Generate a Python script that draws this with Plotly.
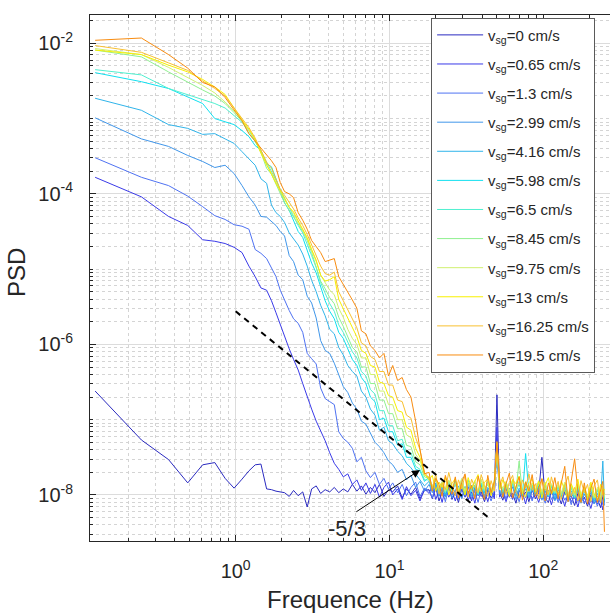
import numpy as np
import plotly.graph_objects as go

# ---------------- data (log10 of PSD) ----------------
freq_low = [0.122, 0.244, 0.366, 0.488, 0.610, 0.732, 0.854, 0.977,
            1.10, 1.22, 1.34, 1.46, 1.59, 1.71, 1.83, 1.95,
            2.08, 2.23, 2.38, 2.55, 2.73, 2.92, 3.12, 3.34,
            3.57, 3.82, 4.09, 4.38, 4.68, 5.01, 5.36, 5.74,
            6.14, 6.57, 7.03, 7.52, 8.05, 8.61, 9.21, 9.86,
            10.5, 11.3, 12.1, 12.9, 13.8, 14.8, 15.8, 16.9]
freq_high = [18.1, 19.0, 20.0, 21.0, 22.0, 23.1, 24.3, 25.5,
             26.8, 28.1, 29.5, 31.0, 32.5, 34.2, 35.9, 37.7,
             39.5, 41.5, 43.6, 45.8, 48.1, 50.0, 52.0, 54.6,
             57.3, 60.2, 63.2, 66.4, 69.7, 73.2, 76.8, 80.7,
             84.7, 88.9, 93.4, 98.0, 103, 108, 113, 119,
             125, 131, 138, 145, 152, 160, 168, 176,
             185, 194, 204, 214, 225, 236, 244, 250]

vsg_labels = ["0", "0.65", "1.3", "2.99", "4.16", "5.98", "6.5",
              "8.45", "9.75", "13", "16.25", "19.5"]
line_colors = ["#2a2ac0", "#3a3ae8", "#4f72f2", "#4096ea", "#30b4ea", "#10e0f0",
               "#50f0d0", "#90f090", "#d0f070", "#f8f000", "#f8c030", "#f88c10"]

s0_low = [-6.62, -7.27, -7.53, -7.84, -7.60, -7.57, -7.78, -7.91,
          -7.79, -7.68, -7.60, -7.59, -7.92, -7.93, -7.95, -7.96,
          -7.97, -8.02, -7.94, -8.01, -7.96, -8.16, -7.92, -7.88,
          -7.98, -7.93, -7.96, -7.90, -7.97, -7.92, -7.96, -7.86,
          -7.95, -7.88, -7.99, -7.90, -7.97, -7.86, -8.02, -7.93,
          -7.96, -7.88, -8.04, -7.92, -7.99, -7.90, -8.05, -7.94]
s0_high = [-7.93, -8.05, -7.90, -8.08, -7.96, -8.02, -7.88, -8.06,
           -7.97, -8.10, -7.92, -8.03, -7.95, -8.08, -7.90, -8.01,
           -7.96, -8.09, -7.93, -8.04, -7.98, -6.67, -7.97, -8.07,
           -7.92, -8.03, -7.98, -8.11, -7.94, -8.02, -7.96, -8.09,
           -7.93, -8.05, -7.97, -7.50, -8.04, -8.10, -7.95, -8.06,
           -8.00, -8.12, -7.96, -8.05, -8.01, -8.14, -7.98, -8.08,
           -8.03, -8.15, -8.00, -8.11, -8.05, -8.17, -8.02, -8.09]

s1_low = [-3.78, -4.04, -4.30, -4.42, -4.61, -4.63, -4.66, -4.71,
          -4.78, -4.96, -5.10, -5.25, -5.28, -5.42, -5.58, -5.74,
          -5.88, -6.06, -6.20, -6.34, -6.52, -6.70, -6.86, -7.02,
          -7.14, -7.28, -7.44, -7.58, -7.66, -7.76, -7.72, -7.86,
          -7.80, -7.94, -7.84, -7.98, -7.86, -8.03, -7.90, -7.83,
          -8.00, -7.92, -8.06, -7.89, -8.01, -7.94, -8.08, -7.92]
s1_high = [-7.98, -7.88, -8.06, -7.94, -8.10, -7.91, -8.03, -7.95,
           -8.08, -7.93, -8.04, -7.89, -8.07, -7.96, -8.11, -7.92,
           -8.02, -7.95, -8.09, -7.93, -8.05, -7.10, -8.03, -7.96,
           -8.09, -7.94, -8.06, -7.91, -8.04, -7.97, -8.12, -7.93,
           -8.05, -7.98, -8.10, -7.95, -8.07, -7.99, -8.13, -7.96,
           -8.06, -8.00, -8.15, -7.97, -8.09, -8.02, -8.16, -7.99,
           -8.10, -8.04, -8.18, -8.01, -8.12, -8.06, -8.20, -8.05]

s2_low = [-3.52, -3.78, -3.89, -4.03, -4.17, -4.29, -4.34, -4.41,
          -4.43, -4.47, -4.74, -4.79, -4.86, -4.98, -5.10, -5.28,
          -5.42, -5.55, -5.66, -5.72, -5.84, -6.12, -6.19, -6.26,
          -6.58, -6.72, -6.76, -6.80, -7.16, -7.25, -7.30, -7.38,
          -7.56, -7.50, -7.68, -7.77, -7.70, -7.86, -7.78, -7.92,
          -7.84, -7.97, -7.86, -8.01, -7.90, -7.83, -8.02, -7.91]
s2_high = [-7.95, -8.04, -7.87, -8.01, -7.93, -8.09, -7.90, -8.00,
           -7.94, -8.06, -7.91, -8.02, -7.89, -8.05, -7.95, -8.10,
           -7.92, -8.03, -7.97, -8.08, -7.94, -7.45, -8.00, -7.93,
           -8.05, -7.91, -8.02, -7.96, -8.09, -7.92, -8.04, -7.95,
           -8.08, -7.93, -8.03, -7.98, -8.11, -7.94, -8.06, -7.97,
           -8.10, -7.96, -8.07, -7.99, -8.13, -7.97, -8.09, -8.01,
           -8.12, -7.99, -8.10, -8.03, -8.15, -8.00, -8.13, -8.04]

s3_low = [-2.99, -3.27, -3.37, -3.49, -3.57, -3.65, -3.62, -3.73,
          -3.89, -4.04, -4.15, -4.30, -4.31, -4.37, -4.42, -4.50,
          -4.56, -4.82, -4.90, -5.08, -5.14, -5.36, -5.45, -5.65,
          -5.95, -6.08, -6.12, -6.25, -6.40, -6.56, -6.64, -6.78,
          -6.86, -7.02, -7.06, -7.18, -7.30, -7.36, -7.44, -7.55,
          -7.60, -7.70, -7.66, -7.80, -7.74, -7.90, -7.82, -7.95]
s3_high = [-7.86, -7.97, -7.84, -8.02, -7.91, -7.99, -7.85, -8.04,
           -7.93, -7.88, -8.05, -7.92, -8.00, -7.87, -8.03, -7.94,
           -7.90, -8.04, -7.92, -7.99, -7.88, -7.40, -7.95, -8.03,
           -7.91, -8.00, -7.89, -8.06, -7.94, -7.99, -7.92, -8.04,
           -7.93, -8.01, -7.90, -8.07, -7.95, -8.02, -7.93, -8.08,
           -7.96, -8.04, -7.94, -8.09, -7.98, -8.05, -7.95, -8.11,
           -7.99, -8.07, -7.97, -8.12, -8.01, -8.09, -7.98, -8.14]

s4_low = [-2.73, -2.89, -3.08, -3.13, -3.21, -3.20, -3.27, -3.33,
          -3.44, -3.53, -3.62, -3.80, -3.86, -4.15, -4.25, -4.30,
          -4.38, -4.52, -4.60, -4.68, -4.80, -4.96, -5.15, -5.30,
          -5.48, -5.62, -5.80, -5.86, -6.04, -6.14, -6.28, -6.36,
          -6.42, -6.62, -6.70, -6.86, -6.94, -7.14, -7.10, -7.28,
          -7.32, -7.42, -7.48, -7.58, -7.64, -7.72, -7.80, -7.88]
s4_high = [-7.82, -7.95, -7.86, -7.99, -7.88, -8.03, -7.90, -7.96,
           -7.85, -8.00, -7.89, -7.97, -7.84, -8.02, -7.91, -7.98,
           -7.87, -8.01, -7.90, -7.96, -7.86, -7.42, -7.93, -8.00,
           -7.88, -7.97, -7.85, -8.02, -7.91, -7.98, -7.89, -8.03,
           -7.90, -7.99, -7.88, -8.04, -7.92, -8.00, -7.87, -8.05,
           -7.93, -8.02, -7.91, -8.06, -7.95, -8.03, -7.92, -8.08,
           -7.96, -8.05, -7.94, -8.09, -7.98, -8.06, -7.55, -8.10]

s5_low = [-2.39, -2.51, -2.60, -2.71, -2.80, -3.00, -3.04, -3.08,
          -3.16, -3.24, -3.36, -3.42, -3.60, -3.64, -3.80, -3.96,
          -4.12, -4.22, -4.36, -4.50, -4.58, -4.74, -4.92, -5.05,
          -5.25, -5.42, -5.56, -5.66, -5.84, -5.92, -6.06, -6.20,
          -6.28, -6.44, -6.52, -6.70, -6.76, -7.00, -6.98, -7.16,
          -7.16, -7.34, -7.32, -7.50, -7.50, -7.66, -7.68, -7.82]
s5_high = [-7.76, -7.90, -7.80, -7.95, -7.83, -7.98, -7.86, -7.93,
           -7.81, -7.96, -7.84, -7.99, -7.82, -7.94, -7.87, -8.00,
           -7.85, -7.97, -7.83, -7.95, -7.88, -7.30, -7.84, -7.98,
           -7.86, -7.99, -7.80, -7.96, -7.85, -8.01, -7.45, -7.97,
           -7.87, -8.00, -7.84, -7.98, -7.86, -8.02, -7.88, -7.99,
           -7.89, -8.02, -7.86, -8.01, -7.90, -8.04, -7.88, -8.03,
           -7.92, -8.05, -7.89, -8.04, -7.93, -8.07, -7.91, -8.06]

s6_low = [-2.35, -2.42, -2.60, -2.68, -2.74, -2.80, -2.86, -2.96,
          -3.05, -3.16, -3.30, -3.44, -3.58, -3.70, -3.82, -3.94,
          -4.06, -4.18, -4.30, -4.42, -4.52, -4.66, -4.82, -4.98,
          -5.18, -5.32, -5.46, -5.56, -5.74, -5.84, -5.98, -6.10,
          -6.18, -6.36, -6.42, -6.60, -6.66, -6.88, -6.88, -7.08,
          -7.08, -7.28, -7.26, -7.44, -7.44, -7.62, -7.66, -7.80]
s6_high = [-7.80, -7.92, -7.78, -7.94, -7.85, -7.97, -7.82, -7.95,
           -7.83, -7.98, -7.86, -7.93, -7.80, -7.96, -7.88, -7.99,
           -7.84, -7.95, -7.82, -7.97, -7.87, -7.35, -7.86, -7.96,
           -7.83, -7.98, -7.85, -7.94, -7.82, -7.99, -7.86, -7.95,
           -7.88, -7.97, -7.84, -7.99, -7.87, -8.01, -7.89, -7.98,
           -7.90, -8.00, -7.87, -8.02, -7.91, -8.03, -7.89, -8.02,
           -7.93, -8.04, -7.90, -8.05, -7.94, -8.06, -7.92, -8.05]

s7_low = [-2.09, -2.18, -2.38, -2.52, -2.62, -2.70, -2.80, -2.92,
          -3.04, -3.20, -3.30, -3.45, -3.66, -3.74, -3.88, -4.00,
          -4.12, -4.22, -4.30, -4.40, -4.50, -4.62, -4.78, -4.96,
          -5.16, -5.26, -5.38, -5.46, -5.64, -5.76, -5.90, -6.04,
          -6.10, -6.30, -6.30, -6.52, -6.52, -6.74, -6.74, -6.92,
          -6.92, -7.12, -7.12, -7.34, -7.36, -7.56, -7.60, -7.76]
s7_high = [-7.78, -7.90, -7.80, -7.93, -7.84, -7.96, -7.81, -7.92,
           -7.86, -7.95, -7.79, -7.97, -7.85, -7.92, -7.83, -7.98,
           -7.80, -7.94, -7.86, -7.96, -7.82, -7.36, -7.85, -7.93,
           -7.84, -7.97, -7.81, -7.95, -7.55, -7.98, -7.84, -7.96,
           -7.86, -7.95, -7.83, -7.98, -7.85, -8.00, -7.87, -7.97,
           -7.88, -7.99, -7.85, -8.01, -7.89, -8.02, -7.87, -8.01,
           -7.91, -8.03, -7.88, -8.04, -7.92, -8.05, -7.90, -8.04]

s8_low = [-2.07, -2.15, -2.32, -2.45, -2.56, -2.66, -2.78, -2.90,
          -3.02, -3.16, -3.28, -3.42, -3.62, -3.72, -3.84, -3.96,
          -4.08, -4.18, -4.26, -4.38, -4.48, -4.60, -4.74, -4.90,
          -5.08, -5.18, -5.28, -5.34, -5.52, -5.64, -5.80, -5.92,
          -6.00, -6.18, -6.18, -6.40, -6.40, -6.62, -6.62, -6.80,
          -6.80, -7.00, -7.00, -7.20, -7.24, -7.46, -7.54, -7.74]
s8_high = [-7.76, -7.88, -7.79, -7.91, -7.82, -7.94, -7.80, -7.90,
           -7.84, -7.93, -7.78, -7.95, -7.83, -7.90, -7.81, -7.96,
           -7.79, -7.92, -7.84, -7.94, -7.80, -7.33, -7.83, -7.91,
           -7.82, -7.95, -7.79, -7.93, -7.84, -7.96, -7.82, -7.94,
           -7.84, -7.93, -7.81, -7.96, -7.83, -7.98, -7.85, -7.95,
           -7.86, -7.97, -7.83, -7.99, -7.87, -8.00, -7.85, -7.99,
           -7.89, -8.01, -7.86, -8.02, -7.90, -8.03, -7.88, -8.02]

s9_low = [-2.09, -2.15, -2.29, -2.38, -2.48, -2.58, -2.68, -2.86,
          -3.02, -3.14, -3.28, -3.46, -3.62, -3.74, -3.86, -3.97,
          -4.06, -4.18, -4.24, -4.36, -4.48, -4.58, -4.74, -4.88,
          -5.08, -5.16, -5.14, -5.10, -5.40, -5.52, -5.66, -5.76,
          -5.90, -6.08, -6.12, -6.28, -6.30, -6.50, -6.52, -6.68,
          -6.70, -6.88, -6.90, -7.10, -7.14, -7.38, -7.50, -7.72]
s9_high = [-7.80, -7.74, -7.95, -7.83, -7.90, -7.76, -8.00, -7.85,
           -7.78, -7.97, -7.86, -8.00, -7.77, -7.91, -7.82, -7.73,
           -7.96, -7.83, -7.79, -8.01, -7.88, -7.32, -7.93, -7.80,
           -7.87, -8.02, -7.80, -7.85, -7.75, -7.97, -8.03, -7.84,
           -7.79, -7.96, -7.82, -8.04, -7.87, -7.77, -7.99, -7.90,
           -8.01, -7.81, -7.94, -8.06, -7.85, -7.97, -7.79, -8.04,
           -7.90, -8.07, -7.83, -7.98, -8.08, -7.86, -8.00, -7.92]

s10_low = [-2.03, -2.12, -2.26, -2.36, -2.50, -2.60, -2.70, -2.86,
           -3.00, -3.12, -3.26, -3.42, -3.58, -3.66, -3.80, -3.94,
           -4.02, -4.12, -4.20, -4.32, -4.42, -4.54, -4.68, -4.80,
           -4.96, -5.06, -5.08, -5.04, -5.30, -5.42, -5.54, -5.64,
           -5.78, -5.98, -6.02, -6.16, -6.20, -6.36, -6.36, -6.54,
           -6.54, -6.74, -6.76, -6.94, -6.98, -7.24, -7.40, -7.70]
s10_high = [-7.78, -7.92, -7.72, -7.99, -7.84, -7.93, -7.70, -7.88,
            -8.01, -7.80, -7.92, -7.74, -8.03, -7.79, -7.90, -7.97,
            -7.73, -7.88, -8.02, -7.81, -7.95, -7.31, -7.87, -7.76,
            -7.99, -7.83, -7.74, -7.96, -8.04, -7.80, -7.91, -7.72,
            -7.94, -7.85, -8.05, -7.78, -7.92, -8.00, -7.76, -7.95,
            -7.82, -8.06, -7.88, -7.75, -8.02, -7.90, -8.08, -7.81,
            -7.97, -7.86, -8.09, -7.88, -7.80, -8.11, -7.93, -7.99]

s11_low = [-1.96, -1.93, -2.15, -2.33, -2.52, -2.58, -2.72, -2.89,
           -3.03, -3.20, -3.30, -3.38, -3.48, -3.56, -3.65, -3.85,
           -3.97, -4.00, -4.05, -4.25, -4.35, -4.47, -4.62, -4.70,
           -4.78, -4.90, -4.88, -4.86, -5.10, -5.20, -5.30, -5.41,
           -5.52, -5.82, -5.86, -6.02, -6.08, -6.18, -6.12, -6.42,
           -6.28, -6.48, -6.44, -6.60, -6.70, -7.02, -7.40, -7.72]
s11_high = [-7.70, -7.95, -7.78, -7.86, -8.02, -7.74, -7.90, -7.99,
            -7.76, -8.04, -7.83, -7.72, -7.98, -7.88, -8.05, -7.75,
            -7.92, -8.06, -7.74, -7.97, -7.82, -7.29, -7.78, -8.03,
            -7.85, -7.71, -8.04, -7.90, -7.76, -8.07, -7.83, -7.95,
            -7.73, -8.02, -7.89, -7.79, -8.08, -7.84, -7.98, -7.77,
            -8.05, -7.86, -7.62, -8.09, -7.80, -7.52, -7.96, -8.10,
            -7.84, -8.12, -7.91, -7.79, -8.10, -7.94, -7.82, -8.49]

series_low = [s0_low, s1_low, s2_low, s3_low, s4_low, s5_low,
              s6_low, s7_low, s8_low, s9_low, s10_low, s11_low]
series_high = [s0_high, s1_high, s2_high, s3_high, s4_high, s5_high,
               s6_high, s7_high, s8_high, s9_high, s10_high, s11_high]

# -5/3 reference line and its annotation
slope_f = [1.0, 43.7]
slope_p0 = 2.75e-6
arrow_tip = (15.8, 2.15e-8)
arrow_tail = (5.96, 5.8e-9)
slope_label = "-5/3"
slope_label_pos = (5.3, 3.6e-9)

# ---------------- figure ----------------
FONT = "Liberation Sans, Arial, Helvetica, sans-serif"
freqs = np.array(freq_low + freq_high)

fig = go.Figure()
for i, (lab, col) in enumerate(zip(vsg_labels, line_colors)):
    logp = np.array(series_low[i] + series_high[i])
    fig.add_trace(go.Scatter(
        x=freqs, y=10 ** logp, mode="lines",
        line=dict(color=col, width=1),
        name=f"v<sub>sg</sub>={lab} cm/s",
        legendgroup=f"g{i}",
    ))

slope_p = [slope_p0 * f ** (-5.0 / 3.0) for f in slope_f]
fig.add_trace(go.Scatter(
    x=slope_f, y=slope_p, mode="lines",
    line=dict(color="black", width=2, dash="6px,5px"),
    showlegend=False, hoverinfo="skip",
))

fig.add_annotation(
    x=np.log10(arrow_tip[0]), y=np.log10(arrow_tip[1]),
    ax=np.log10(arrow_tail[0]), ay=np.log10(arrow_tail[1]),
    xref="x", yref="y", axref="x", ayref="y",
    showarrow=True, arrowhead=2, arrowsize=1.6, arrowwidth=1,
    arrowcolor="black", text="",
)
fig.add_annotation(
    x=np.log10(slope_label_pos[0]), y=np.log10(slope_label_pos[1]),
    xref="x", yref="y", text=slope_label, showarrow=False,
    font=dict(size=22, family=FONT, color="#262626"),
)

# axis titles placed as annotations
fig.add_annotation(x=0.5, y=-0.112, xref="paper", yref="paper",
                   xanchor="center", yanchor="middle",
                   text="Frequence (Hz)", showarrow=False,
                   font=dict(size=24, family=FONT, color="#262626"))
fig.add_annotation(x=-0.14, y=0.51, xref="paper", yref="paper",
                   xanchor="center", yanchor="middle",
                   text="PSD", showarrow=False, textangle=-90,
                   font=dict(size=24, family=FONT, color="#262626"))

x_major = [1, 10, 100]
x_minor = [m * 10.0 ** d for d in range(-1, 3) for m in range(2, 10)]
y_major = [1e-8, 1e-6, 1e-4, 1e-2]
y_minor = [m * 10.0 ** d for d in range(-9, -1) for m in range(1, 10)
           if not (m == 1 and d % 2 == 0)]

def sup(v):
    return f"10<sup>{int(round(np.log10(v)))}</sup>"

axis_common = dict(
    type="log", showline=True, linecolor="#262626", linewidth=1,
    ticks="inside", ticklen=6, tickcolor="#262626",
    showgrid=True, gridcolor="#dcdcdc", gridwidth=1, zeroline=False,
    tickfont=dict(size=20, family=FONT, color="#262626"),
)

fig.update_xaxes(
    **axis_common,
    range=[-0.947, 2.434],
    tickmode="array", tickvals=x_major, ticktext=[sup(v) for v in x_major],
    mirror="allticks", ticklabelstandoff=12,
    minor=dict(tickmode="array", tickvals=x_minor, ticks="inside", ticklen=3,
               tickcolor="#262626", showgrid=True, gridcolor="#d4d4d4",
               griddash="dot"),
)
fig.update_yaxes(
    **axis_common,
    range=[-8.612, -1.624],
    tickmode="array", tickvals=y_major, ticktext=[sup(v) for v in y_major],
    mirror=False, ticklabelstandoff=12,
    minor=dict(tickmode="array", tickvals=y_minor, ticks="inside", ticklen=3,
               tickcolor="#262626", showgrid=True, gridcolor="#d4d4d4",
               griddash="dot"),
)

fig.update_layout(
    width=610, height=615,
    margin=dict(l=90, r=0, t=15, b=74),
    paper_bgcolor="white", plot_bgcolor="white",
    font=dict(family=FONT, color="#262626"),
    showlegend=True,
    legend=dict(
        x=0.656, y=0.995, xanchor="left", yanchor="top",
        bgcolor="white", bordercolor="#5a5a5a", borderwidth=1,
        font=dict(size=15, family=FONT, color="#262626"),
        itemwidth=46, tracegroupgap=6.6,
    ),
)

fig.write_html(
    "out.html",
    config={"displayModeBar": False},
    post_script="document.body.style.margin='0px';"
                "document.body.style.overflow='hidden';",
)
